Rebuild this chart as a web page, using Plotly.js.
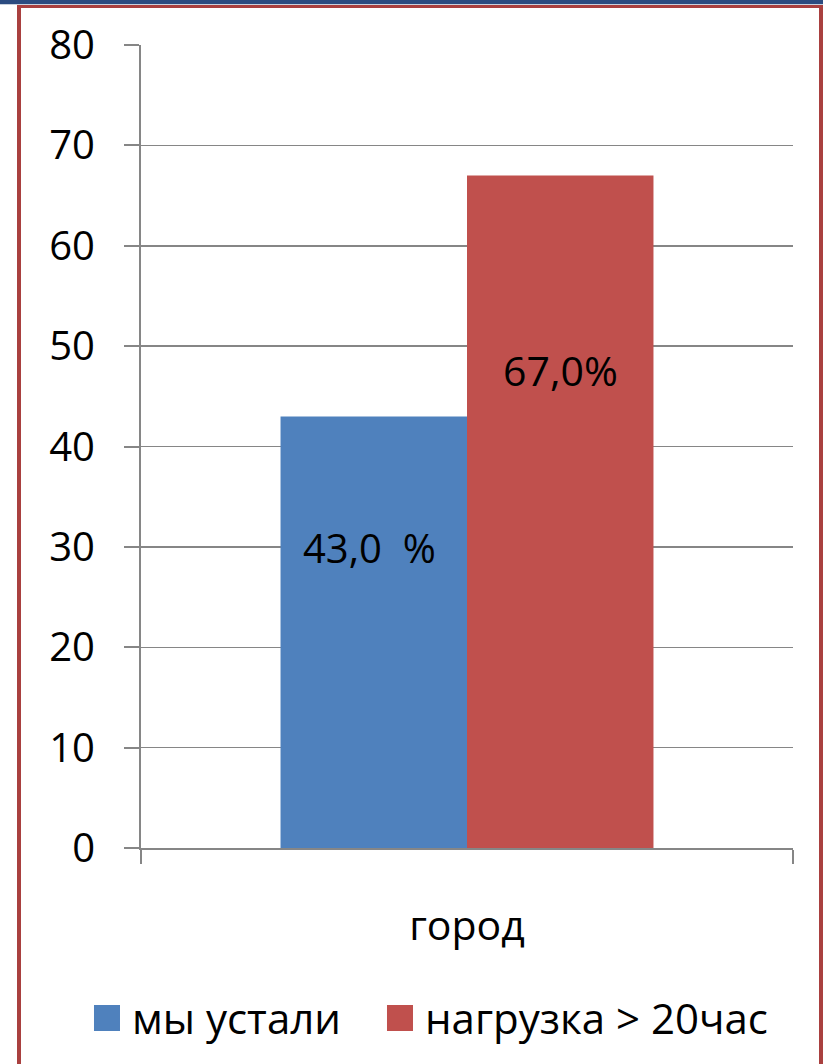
<!DOCTYPE html>
<html>
<head>
<meta charset="utf-8">
<script src="https://cdn.plot.ly/plotly-3.0.1.min.js"></script>
<style>
  html, body { margin: 0; padding: 0; background: #fff; }
  #wrap { position: relative; width: 823px; height: 1064px; overflow: hidden; background: #fff; }
  #chart { position: absolute; left: 0; top: 0; width: 823px; height: 1064px; }
  .deco { position: absolute; pointer-events: none; }
</style>
</head>
<body>
<div id="wrap">
  <div id="chart"></div>
  <div class="deco" style="left:0;top:0;width:823px;height:4px;background:#2b4b80;"></div>
  <div class="deco" style="left:0;top:4px;width:823px;height:1px;background:#c8d0dc;"></div>
  <div class="deco" style="left:17px;top:5px;width:806px;height:3px;background:#a9403f;"></div>
  <div class="deco" style="left:17px;top:5px;width:4px;height:1059px;background:#a9403f;"></div>
  <div class="deco" style="left:819px;top:5px;width:4px;height:1059px;background:#a9403f;"></div>
</div>
<script>
// ---- data ----
var categories = ["город"];
var seriesNames = ["мы устали", "нагрузка > 20час"];
var seriesColors = ["#4F81BD", "#C0504D"];
var tiredValues = [43];
var loadValues = [67];
var valueLabels = ["43,0\u00a0\u00a0%", "67,0%"];
var yTickValues = [0, 10, 20, 30, 40, 50, 60, 70, 80];

var traces = [
  { type: "bar", name: seriesNames[0], x: categories, y: tiredValues,
    marker: { color: seriesColors[0] }, hoverinfo: "none", legendwidth: 238 },
  { type: "bar", name: seriesNames[1], x: categories, y: loadValues,
    marker: { color: seriesColors[1] }, hoverinfo: "none" }
];

var labelFont = { family: "Open Sans, sans-serif", size: 40, color: "#000" };

var layout = {
  width: 823, height: 1064,
  margin: { l: 141, r: 30, t: 45, b: 216 },
  paper_bgcolor: "rgba(0,0,0,0)",
  plot_bgcolor: "rgba(0,0,0,0)",
  barmode: "group",
  bargap: 0.428,
  bargroupgap: 0,
  font: { family: "Open Sans, sans-serif", size: 40, color: "#000" },
  showlegend: true,
  legend: {
    orientation: "h",
    x: -0.0905, xanchor: "left",
    y: -0.212, yanchor: "middle",
    font: { family: "Open Sans, sans-serif", size: 42, color: "#000" },
    bgcolor: "rgba(0,0,0,0)",
    itemwidth: 40,
    traceorder: "normal"
  },
  xaxis: {
    type: "category",
    range: [-0.5, 0.5],
    showline: true, linecolor: "#868686", linewidth: 2,
    ticks: "outside", tickson: "boundaries", ticklen: 14, tickcolor: "#868686", tickwidth: 2,
    ticklabelstandoff: 41,
    tickfont: { family: "Open Sans, sans-serif", size: 41, color: "#000" },
    showgrid: false, zeroline: false, fixedrange: true
  },
  yaxis: {
    range: [0, 80],
    tickmode: "array", tickvals: yTickValues, ticktext: yTickValues.map(String),
    showline: true, linecolor: "#868686", linewidth: 2,
    ticks: "outside", ticklen: 15, tickcolor: "#868686", tickwidth: 2,
    ticklabelstandoff: 21,
    showgrid: true, gridcolor: "#868686", gridwidth: 1.5,
    zeroline: false,
    tickfont: { family: "Open Sans, sans-serif", size: 40, color: "#000" },
    fixedrange: true
  },
  annotations: [
    { x: -0.149, y: 29.9, xref: "x", yref: "y", text: valueLabels[0], showarrow: false,
      font: labelFont, xanchor: "center", yanchor: "middle" },
    { x: 0.143, y: 47.6, xref: "x", yref: "y", text: valueLabels[1], showarrow: false,
      font: { family: "Open Sans, sans-serif", size: 41, color: "#000" }, xanchor: "center", yanchor: "middle" }
  ]
};

function enlargeLegendSymbols() {
  var paths = document.querySelectorAll("#chart .legendpoints path");
  paths.forEach(function (p) { p.setAttribute("d", "M13,13H-13V-13H13Z"); });
}

Plotly.newPlot("chart", traces, layout, { staticPlot: true, displayModeBar: false })
  .then(function (gd) {
    enlargeLegendSymbols();
    gd.on("plotly_afterplot", enlargeLegendSymbols);
  });
</script>
</body>
</html>
